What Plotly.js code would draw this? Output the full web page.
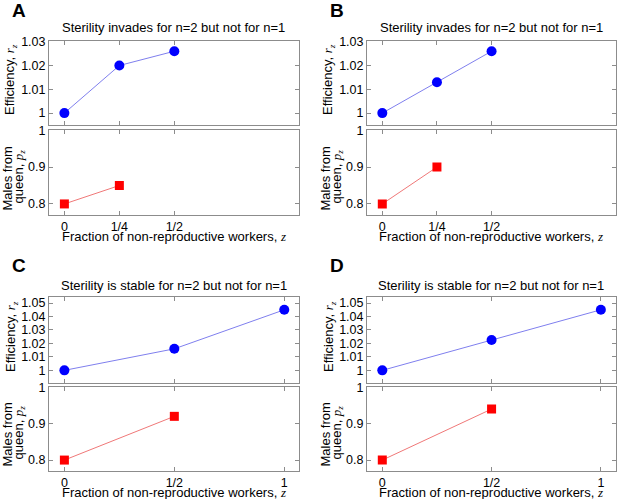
<!DOCTYPE html>
<html><head><meta charset="utf-8">
<script src="https://cdn.plot.ly/plotly-3.0.1.min.js"></script>
<style>html,body{margin:0;padding:0;background:#fff}#chart{width:617px;height:499px}</style>
</head><body><div id="chart"></div>
<script>
// ---- data ----
const zAB = [0, 0.25, 0.5];
const zCD = [0, 0.5, 1];
const zpAB = [0, 0.25];
const zpCD = [0, 0.5];
const rA = [1, 1.02, 1.026];
const pA = [0.8, 0.85];
const rB = [1, 1.013, 1.026];
const pB = [0.8, 0.9];
const rC = [1, 1.016, 1.045];
const pC = [0.8, 0.92];
const rD = [1, 1.0225, 1.045];
const pD = [0.8, 0.94];
const xTickValsAB = [0, 0.25, 0.5];
const xTickTextAB = ['0', '1/4', '1/2'];
const xTickValsCD = [0, 0.5, 1];
const xTickTextCD = ['0', '1/2', '1'];
const rTickValsAB = [1, 1.01, 1.02, 1.03];
const rTickTextAB = ['1', '1.01', '1.02', '1.03'];
const rTickValsCD = [1, 1.01, 1.02, 1.03, 1.04, 1.05];
const rTickTextCD = ['1', '1.01', '1.02', '1.03', '1.04', '1.05'];
const pTickVals = [0.8, 0.9, 1];
const pTickText = ['0.8', '0.9', '1'];
const panelTitles = ['Sterility invades for n=2 but not for n=1', 'Sterility invades for n=2 but not for n=1',
                     'Sterility is stable for n=2 but not for n=1', 'Sterility is stable for n=2 but not for n=1'];
const panelLetters = ['A', 'B', 'C', 'D'];

// ---- layout helpers ----
const W = 617, H = 499;
const px = x => x / W, py = y => 1 - y / H;
const colDom = [[px(49), px(299)], [px(367), px(615.5)]];
const rowDom = [
  {top: [py(125), py(41)], bot: [py(215), py(130)], title: 27.5, letter: 10, xtitle: 237, topMid: 80, botMid: 177},
  {top: [py(383), py(297)], bot: [py(471), py(387)], title: 285, letter: 265, xtitle: 492.5, topMid: 337, botMid: 433}
];
const panels = [
  {z: zAB, zp: zpAB, r: rA, p: pA, xv: xTickValsAB, xt: xTickTextAB, rv: rTickValsAB, rt: rTickTextAB, rr: [0.995, 1.0303]},
  {z: zAB, zp: zpAB, r: rB, p: pB, xv: xTickValsAB, xt: xTickTextAB, rv: rTickValsAB, rt: rTickTextAB, rr: [0.995, 1.0303]},
  {z: zCD, zp: zpCD, r: rC, p: pC, xv: xTickValsCD, xt: xTickTextCD, rv: rTickValsCD, rt: rTickTextCD, rr: [0.9906, 1.0545]},
  {z: zCD, zp: zpCD, r: rD, p: pD, xv: xTickValsCD, xt: xTickTextCD, rv: rTickValsCD, rt: rTickTextCD, rr: [0.9906, 1.0545]}
];

const FONT = 'Liberation Sans, Arial, Helvetica, sans-serif';
const SERIF = 'Liberation Serif, Times New Roman, serif';
const AX = '#8c8c8c';
const baseAxis = {
  showline: true, mirror: 'ticks', linecolor: AX, linewidth: 1,
  ticks: 'inside', ticklen: 4, tickcolor: AX, tickwidth: 1,
  showgrid: false, zeroline: false, tickmode: 'array',
  tickfont: {family: FONT, size: 12.5, color: '#000'}, fixedrange: true
};

const data = [];
const layout = {
  width: W, height: H, margin: {l: 0, r: 0, t: 0, b: 0},
  paper_bgcolor: '#fff', plot_bgcolor: '#fff', showlegend: false,
  font: {family: FONT, color: '#000'}, annotations: []
};

panels.forEach((P, i) => {
  const col = i % 2, row = Math.floor(i / 2);
  const a = 2 * i + 1, b = 2 * i + 2;
  const cx = col === 0 ? 174 : 491;
  data.push({
    x: P.z, y: P.r, xaxis: 'x' + a, yaxis: 'y' + a, type: 'scatter', mode: 'lines+markers',
    line: {color: '#7f7fee', width: 1}, marker: {symbol: 'circle', size: 10, color: '#0000ff'}
  });
  data.push({
    x: P.zp, y: P.p, xaxis: 'x' + b, yaxis: 'y' + b, type: 'scatter', mode: 'lines+markers',
    line: {color: '#f07878', width: 1}, marker: {symbol: 'square', size: 9, color: '#ff0000'}
  });
  layout['xaxis' + a] = Object.assign({}, baseAxis, {domain: colDom[col], anchor: 'y' + a, range: [-0.07, 1.067],
    tickvals: P.xv, ticktext: P.xt, showticklabels: false});
  layout['yaxis' + a] = Object.assign({}, baseAxis, {domain: rowDom[row].top, anchor: 'x' + a, range: P.rr,
    tickvals: P.rv, ticktext: P.rt});
  layout['xaxis' + b] = Object.assign({}, baseAxis, {domain: colDom[col], anchor: 'y' + b, range: [-0.07, 1.067],
    tickvals: P.xv, ticktext: P.xt});
  layout['yaxis' + b] = Object.assign({}, baseAxis, {domain: rowDom[row].bot, anchor: 'x' + b, range: [0.77, 1.0005],
    tickvals: pTickVals, ticktext: pTickText});

  const ann = (x, y, text, extra) => layout.annotations.push(Object.assign({
    xref: 'paper', yref: 'paper', x: px(x), y: py(y), text: text, showarrow: false,
    xanchor: 'center', yanchor: 'middle', font: {family: FONT, size: 13, color: '#000'}
  }, extra || {}));

  ann(cx, rowDom[row].title, panelTitles[i]);
  ann(cx, rowDom[row].xtitle, 'Fraction of non-reproductive workers, <span style="font-family:' + SERIF + '"><i>z</i></span>', {borderpad: 0});
  ann(col === 0 ? 19.5 : 337, rowDom[row].letter, '<b>' + panelLetters[i] + '</b>', {font: {family: FONT, size: 19, color: '#000'}});
  const lx = col === 0 ? 0 : 318;
  ann(lx + 11, rowDom[row].topMid, 'Efficiency, <span style="font-family:' + SERIF + '"><i>r</i><sub><i>z</i></sub></span>', {textangle: -90});
  ann(lx + 7, rowDom[row].botMid + 1.5, 'Males from', {textangle: -90, borderpad: 0});
  ann(lx + 18.5, rowDom[row].botMid, 'queen, <span style="font-family:' + SERIF + '"><i>p</i><sub><i>z</i></sub></span>', {textangle: -90, borderpad: 0});
});

Plotly.newPlot('chart', data, layout, {staticPlot: true, displayModeBar: false});
</script>
</body></html>
